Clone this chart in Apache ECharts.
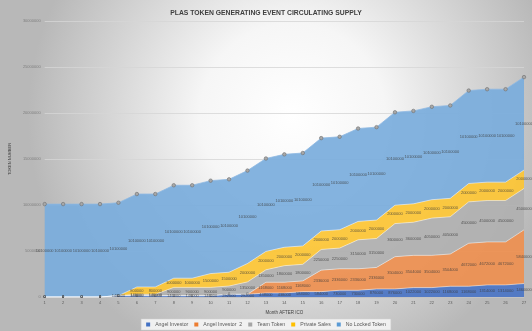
<!DOCTYPE html>
<html><head><meta charset="utf-8">
<script src="https://cdn.jsdelivr.net/npm/echarts@6/dist/echarts.min.js"></script>
<style>html,body{margin:0;padding:0}#c{width:532px;height:331px}</style>
</head><body><div id="c"></div>
<script>
var months = ['1','2','3','4','5','6','7','8','9','10','11','12','13','14','15','16','17','18','19','20','21','22','23','24','25','26','27'];
var angel = [0,0,0,0,146000,146000,146000,146000,146000,146000,292000,292000,438000,438000,584000,584000,730000,730000,876000,876000,1022000,1022000,1168000,1168000,1314000,1314000,1460000];
var angel2 = [0,0,0,0,0,0,0,0,0,0,0,0,1168000,1168000,1168000,2336000,2336000,2336000,2336000,3504000,3504000,3504000,3504000,4672000,4672000,4672000,5840000];
var team = [0,0,0,0,0,146000,146000,900000,900000,900000,900000,1350000,1350000,1800000,1800000,2250000,2250000,3150000,3150000,3600000,3600000,4050000,4050000,4500000,4500000,4500000,4500000];
var privateSales = [0,0,0,0,0,800000,800000,1000000,1000000,1500000,1500000,2000000,2000000,2000000,2000000,2000000,2000000,2000000,2000000,2000000,2000000,2000000,2000000,2000000,2000000,2000000,2000000];
var noLocked = [10100000,10100000,10100000,10100000,10100000,10100000,10100000,10100000,10100000,10100000,10100000,10100000,10100000,10100000,10100000,10100000,10100000,10100000,10100000,10100000,10100000,10100000,10100000,10100000,10100000,10100000,10100000];
var yTicks = {min:0, max:30000000, interval:5000000};

var names = ['Angel Investor','Angel Investor  2','Team Token','Private Sales','No Locked Token'];
var layers = [angel, angel2, team, privateSales, noLocked];
var colors = ['#4a74c4','#ee8f4f','#b0b0b0','#fdc534','#7aacdc'];
var legendColors = ['#4472c4','#ed7d31','#a5a5a5','#ffc000','#5b9bd5'];

var chart = echarts.init(document.getElementById('c'));
var series = [];
layers.forEach(function(arr, k){
  series.push({
    name: names[k], type:'line', stack:'total', data: arr,
    symbol:'circle', symbolSize: k===4?3.5:0, showSymbol: k===4,
    itemStyle:{color:'#a8a8a8', borderColor:'#6e6e6e', borderWidth:0.6},
    lineStyle:{width:0.8, color: k===4 ? '#8fb9e2' : 'rgba(255,255,255,0.6)'},
    areaStyle:{color: colors[k], opacity:0.92},
    emphasis:{disabled:true}, silent:true, z:2
  });
});
layers.forEach(function(arr, k){
  var d = arr.map(function(v,i){
    var below = 0; for (var j=0;j<k;j++) below += layers[j][i];
    return {value:[i, below + v/2], raw:v};
  });
  series.push({
    type:'scatter', data:d, symbolSize:0, silent:true, z:5,
    label:{show:true, position:'inside', fontSize:4, color:'#3c3c3c', fontFamily:'Liberation Sans',
      formatter:function(p){return String(p.data.raw);}}
  });
});

chart.setOption({
  animation:false,
  backgroundColor: new echarts.graphic.RadialGradient(0.55,0.35,0.8,[
    {offset:0,color:'#ffffff'},{offset:0.35,color:'#f6f6f6'},{offset:1,color:'#b8b8b8'}]),
  title:{text:'PLAS TOKEN GENERATING EVENT CIRCULATING SUPPLY', left:'center', top:5,
    textStyle:{fontSize:6.8, fontWeight:'bold', color:'#404040', fontFamily:'Liberation Sans, Arial'}},
  grid:{left:32, right:8, top:21, bottom:34},
  legend:{data:names.map(function(n,k){return {name:n, itemStyle:{color:legendColors[k], borderWidth:0}};}),
    bottom:1, left:'center', icon:'rect', itemWidth:4, itemHeight:4, itemGap:6,
    backgroundColor:'rgba(245,245,245,0.9)', borderColor:'#d0d0d0', borderWidth:0.5, padding:[3,5],
    textStyle:{fontSize:5.2, color:'#595959', fontFamily:'Liberation Sans'}},
  xAxis:{type:'category', data:months, boundaryGap:false,
    name:'Month AFTER ICO', nameLocation:'middle', nameGap:12,
    nameTextStyle:{fontSize:4.5, color:'#404040', fontFamily:'Liberation Sans'},
    axisLine:{lineStyle:{color:'#bfbfbf', width:0.8}}, axisTick:{show:false},
    axisLabel:{fontSize:4, color:'#595959', margin:4, fontFamily:'Liberation Sans'}},
  yAxis:{type:'value', min:yTicks.min, max:yTicks.max, interval:yTicks.interval,
    name:'TOKEN NUMBER', nameLocation:'middle', nameGap:24, nameRotate:90,
    nameTextStyle:{fontSize:4, color:'#404040', fontFamily:'Liberation Sans'},
    axisLine:{show:false}, axisTick:{show:false},
    axisLabel:{fontSize:4, color:'#7f7f7f', margin:4, fontFamily:'Liberation Sans',
      formatter:function(v){return String(v);}},
    splitLine:{lineStyle:{color:'#d6d6d6', width:0.8}}},
  series: series
});
</script></body></html>
